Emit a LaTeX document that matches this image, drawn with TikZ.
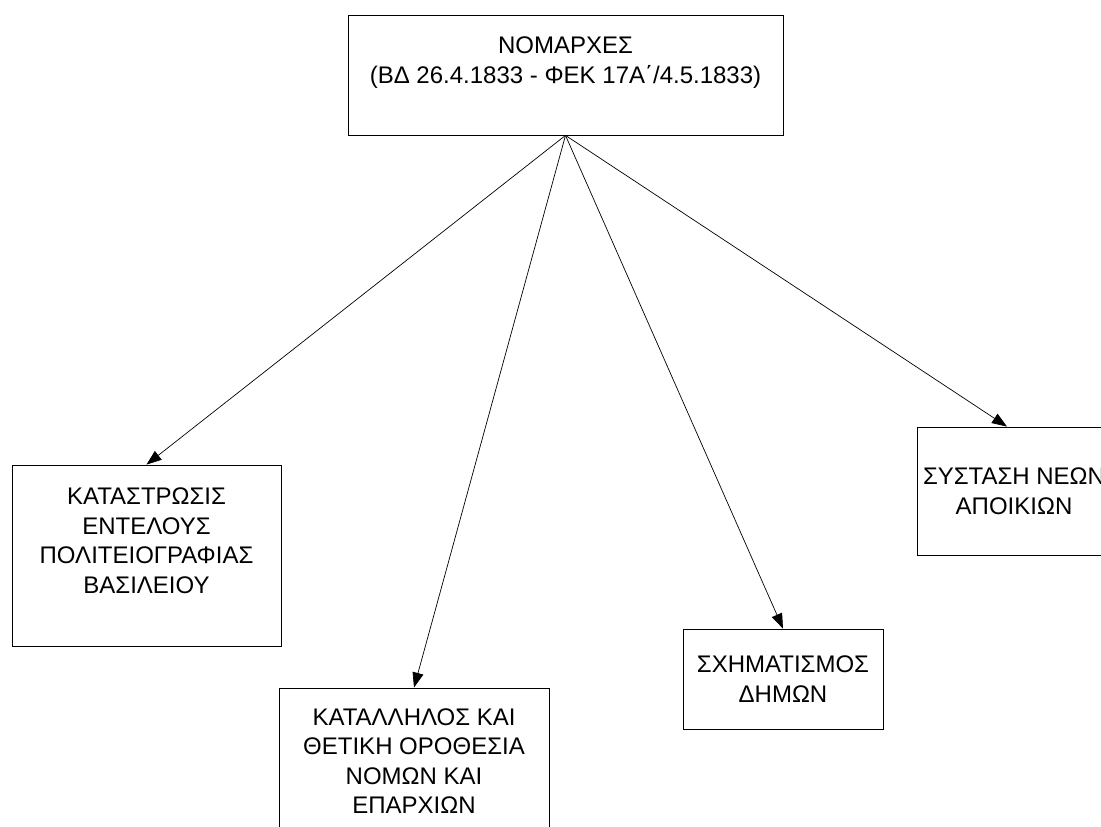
\documentclass[tikz,border=0pt]{standalone}
\usepackage{fontspec}
\setmainfont{Liberation Sans}
\usetikzlibrary{arrows.meta}
\tikzset{>={Triangle[length=15pt,width=11pt]}}
\tikzset{box/.style={draw, line width=0.8pt, inner sep=0pt, align=center,
  font=\fontsize{24}{29.5}\selectfont}}

\begin{document}
\begin{tikzpicture}[x=1pt, y=-1pt]
                \useasboundingbox (0,0) rectangle (1101,827);
                \clip (0,0) rectangle (1101,827);

                \node[box, minimum width=435pt, minimum height=120pt] (nomarch) at (565.5, 75)
                    {ΝΟΜΑΡΧΕΣ\\(ΒΔ 26.4.1833 - ΦΕΚ 17Α΄/4.5.1833)\\\mbox{}};

                \node[box, minimum width=269pt, minimum height=181pt] (katastr) at (146.5, 555.5)
                    {ΚΑΤΑΣΤΡΩΣΙΣ\\ΕΝΤΕΛΟΥΣ\\ΠΟΛΙΤΕΙΟΓΡΑΦΙΑΣ\\ΒΑΣΙΛΕΙΟΥ\\\mbox{}};
                \node[box, minimum width=270pt, minimum height=146pt] (orothes) at (414, 761)
                    {ΚΑΤΑΛΛΗΛΟΣ ΚΑΙ\\ΘΕΤΙΚΗ ΟΡΟΘΕΣΙΑ\\ΝΟΜΩΝ ΚΑΙ\\ΕΠΑΡΧΙΩΝ};
                \node[box, minimum width=200pt, minimum height=100pt] (dimon) at (783, 679)
                    {ΣΧΗΜΑΤΙΣΜΟΣ\\ΔΗΜΩΝ};
                \node[box, minimum width=194pt, minimum height=128pt] (apoik) at (1014, 491)
                    {ΣΥΣΤΑΣΗ ΝΕΩΝ\\ΑΠΟΙΚΙΩΝ};

                \draw[->, line width=0.7pt] (nomarch.south) -- (katastr.north);
                \draw[->, line width=0.7pt] (nomarch.south) -- (orothes.north);
                \draw[->, line width=0.7pt] (nomarch.south) -- (dimon.north);
                \draw[->, line width=0.7pt] (nomarch.south) -- ([xshift=-7pt]apoik.north);
\end{tikzpicture}
\end{document}
